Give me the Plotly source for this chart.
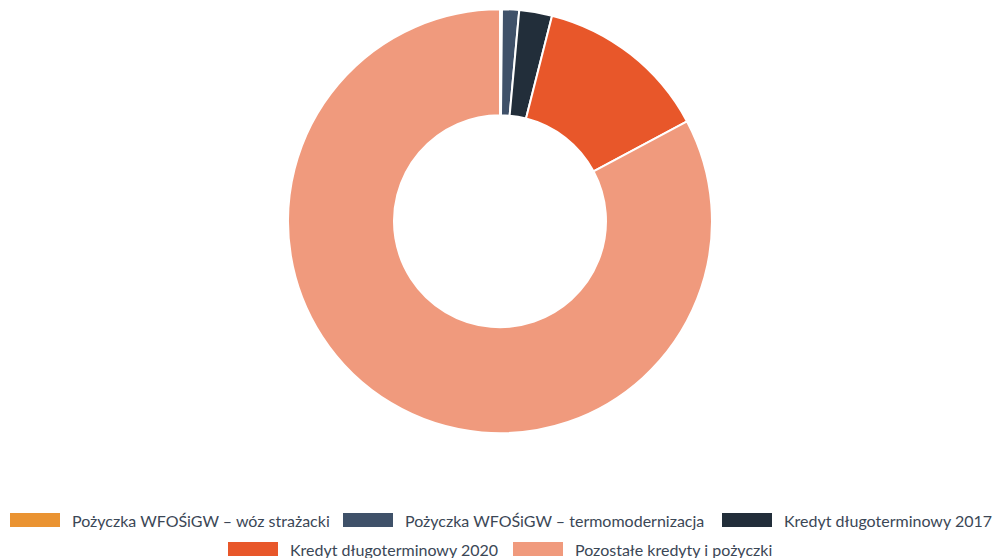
import plotly.graph_objects as go

labels = [
    "Pożyczka WFOŚiGW – wóz strażacki",
    "Pożyczka WFOŚiGW – termomodernizacja",
    "Kredyt długoterminowy 2017",
    "Kredyt długoterminowy 2020",
    "Pozostałe kredyty i pożyczki",
]
values = [0.15, 1.3, 2.5, 13.25, 82.8]
colors = ["#EA9332", "#3F5169", "#222E3A", "#E8572A", "#F09A7D"]

# legend layout (pixels): row of each entry and swatch left edge
legend_rows = [0, 0, 0, 1, 1]
legend_x = [10, 343, 722, 228, 513]
row_y = [520, 549]
W, H = 995, 558
SW_W, SW_H, GAP = 50, 14, 10
TEXT_COLOR = "#3B4756"

fig = go.Figure(
    go.Pie(
        labels=labels,
        values=values,
        hole=0.5,
        sort=False,
        direction="clockwise",
        rotation=0,
        textinfo="none",
        showlegend=False,
        marker=dict(colors=colors, line=dict(color="white", width=2)),
        domain=dict(x=[0.005, 1.0], y=[0.2237, 0.9835]),
    )
)

for lab, col, r, x0 in zip(labels, colors, legend_rows, legend_x):
    yc = row_y[r]
    fig.add_shape(
        type="rect",
        xref="paper", yref="paper",
        x0=x0 / W, x1=(x0 + SW_W) / W,
        y0=1 - (yc + SW_H / 2) / H, y1=1 - (yc - SW_H / 2) / H,
        fillcolor=col, line=dict(width=0),
    )
    fig.add_annotation(
        text=lab,
        xref="paper", yref="paper",
        x=(x0 + SW_W + GAP) / W, y=1 - yc / H,
        xanchor="left", yanchor="middle",
        showarrow=False,
        font=dict(family="Lato", size=16, color=TEXT_COLOR),
    )

fig.update_layout(
    width=W,
    height=H,
    margin=dict(l=0, r=0, t=0, b=0),
    paper_bgcolor="white",
    plot_bgcolor="white",
    font=dict(family="Lato", size=16, color=TEXT_COLOR),
    showlegend=False,
)

fig.write_html(
    "out.html",
    config={"displayModeBar": False},
    post_script="document.body.style.margin='0';document.body.style.overflow='hidden';",
)
